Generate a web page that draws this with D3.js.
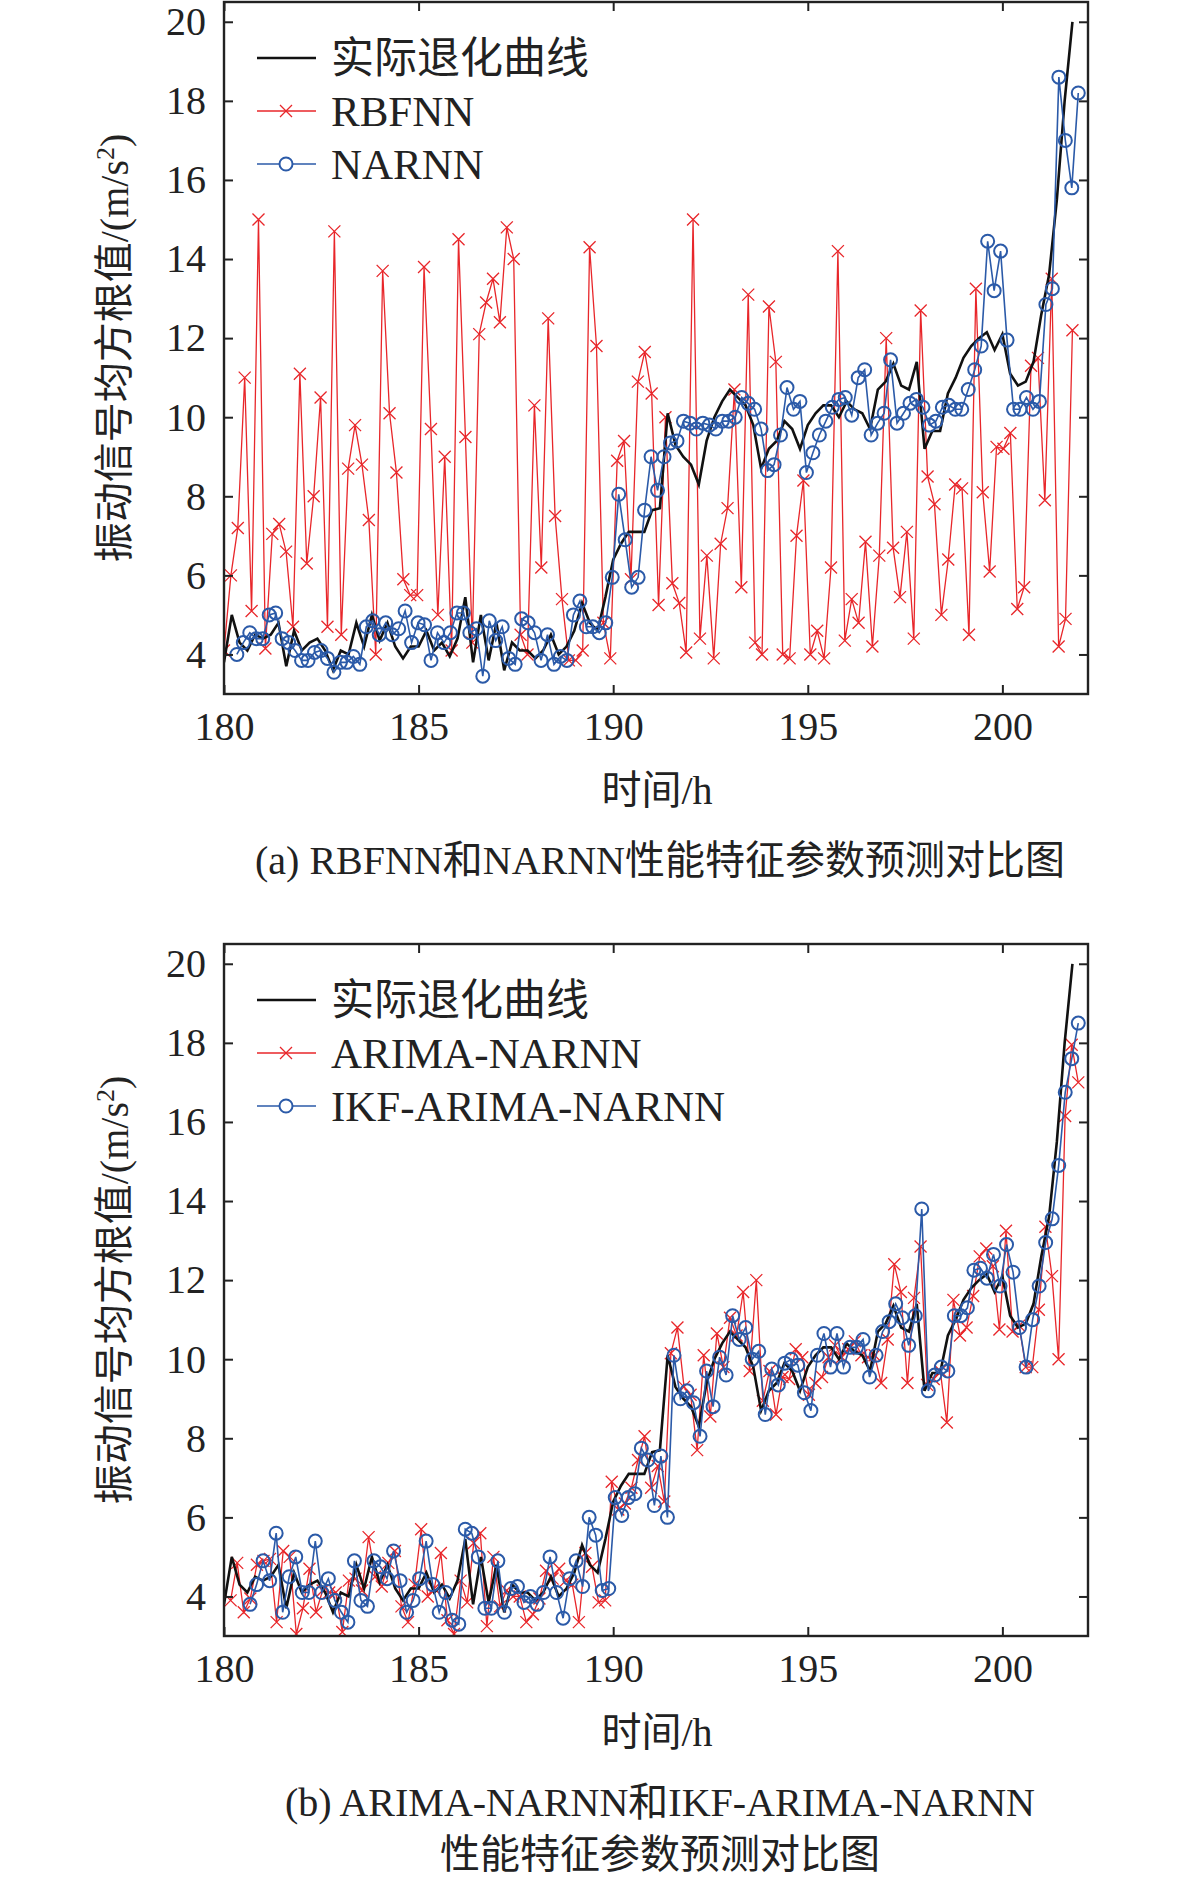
<!DOCTYPE html>
<html>
<head>
<meta charset="utf-8">
<script src="https://cdn.jsdelivr.net/npm/d3@7"></script>
<style>
  body { margin: 0; background: #fff; }
  text { font-family: "Liberation Serif", "Noto Sans CJK SC", serif; fill: #222; }
</style>
</head>
<body>
<svg width="1181" height="1890"></svg>
<script>
// actual degradation curve, sampled every 0.2 h from 180 h
var actual = [3.8,5.0,4.3,4.1,4.5,4.4,4.5,4.8,3.7,4.6, 4.1,4.3,4.4,4.1,3.6,4.1,4.0,4.8,4.2,5.0,
  4.35,4.8,4.2,3.9,4.2,4.2,4.6,4.1,4.3,3.95, 4.4,5.45,3.8,5.0,3.85,4.8,3.6,4.3,4.1,4.1,
  3.9,4.1,4.5,4.0,4.2,4.6,5.3,4.8,4.6,5.45, 6.4,6.8,7.1,7.1,7.1,7.65,7.7,10.1,9.3,9.0,
  8.8,8.3,9.4,10.0,10.4,10.7,10.5,10.3,9.8,8.7, 9.2,9.4,9.9,9.7,9.2,9.8,10.1,10.3,10.3,10.0,
  10.4,10.2,10.1,9.7,10.7,10.9,11.35,10.8,10.7,11.4, 9.2,9.65,9.65,10.6,11.0,11.5,11.8,12.0,12.15,11.7,
  12.1,11.1,10.8,10.9,11.4,12.6,13.6,15.5,18.0,20.0];
var actualStart = 180, actualStep = 0.2;

// (a) predictions
var rbfnn = [4.1,6.0,7.2,11.0,5.1,15.0,4.15,7.05,7.3,6.6,4.7,11.1,6.3,8.0,10.5,4.7,14.7,4.5,8.7,9.8,
  8.8,7.4,4.0,13.7,10.1,8.6,5.9,5.5,5.5,13.8,9.7,5.0,9.0,4.1,14.5,9.5,4.3,12.1,12.9,13.5,
  12.4,14.8,14.0,4.5,4.0,10.3,6.2,12.5,7.5,5.4,3.85,3.85,4.1,14.3,11.8,
  4.8,3.9,8.9,9.4,5.9,10.9,11.65,10.6,5.25,10.0,5.8,5.3,4.05,15.0,4.4,6.5,3.9,6.8,7.7,10.7,
  5.7,13.1,4.3,4.0,12.8,11.4,4.0,3.9,7.0,8.4,4.0,4.6,3.9,6.2,14.2,4.35,5.4,4.8,6.85,4.2,
  6.5,12.0,6.7,5.45,7.1,4.4,12.7,8.5,7.8,5.0,6.4,8.3,8.2,4.5,13.25,8.1,6.1,9.25,9.2,9.6,
  5.15,5.7,11.3,11.5,7.9,13.5,4.2,4.9,12.2];
var narnn = [4.0,4.3,4.55,4.4,4.4,5.0,5.05,4.4,4.3,4.1,3.85,3.85,4.05,4.1,3.9,3.55,3.8,3.8,3.95,3.75,
  4.7,4.85,4.5,4.8,4.5,4.65,5.1,4.3,4.8,4.75,3.85,4.55,4.3,4.55,5.05,5.05,4.55,4.65,3.45,4.85,
  4.35,4.7,3.9,3.75,4.9,4.8,4.55,3.85,4.5,3.75,3.95,3.85,5.0,5.35,4.7,4.7,4.55,4.8,5.95,8.05,
  6.9,5.7,5.95,7.65,9.0,8.15,9.0,9.35,9.4,9.9,9.85,9.7,9.85,9.8,9.7,9.9,9.9,10.0,10.5,10.35,
  10.2,9.7,8.65,8.8,9.55,10.75,10.2,10.4,8.6,9.1,9.55,9.9,10.25,10.45,10.5,10.05,11.0,11.2,9.55,9.85,
  10.1,11.45,9.85,10.1,10.35,10.45,10.25,9.8,9.9,10.25,10.3,10.2,10.2,10.7,11.2,11.8,14.45,13.2,14.2,11.95,
  10.2,10.2,10.5,10.2,10.4,12.85,13.25,18.6,17.0,15.8,18.2];

// (b) predictions
var arima = [3.9,4.85,3.6,3.95,4.8,4.9,4.95,3.35,5.15,5.0,3.05,3.7,4.7,3.6,4.15,4.1,4.1,3.1,4.4,4.45,
  4.15,5.5,4.5,4.25,4.85,5.15,3.75,3.35,4.3,5.7,4.0,4.2,5.1,3.4,3.05,4.4,3.85,5.35,5.6,3.25,
  5.0,3.75,4.15,4.0,4.0,3.35,3.55,3.95,4.65,4.45,4.7,4.4,4.3,3.35,5.1,4.75,3.85,3.9,
  6.9,6.2,6.35,6.75,7.45,8.05,6.75,7.3,6.4,10.15,10.8,9.3,9.1,7.7,10.1,8.55,10.65,9.8,11.05,10.6,
  11.7,9.7,12.0,8.95,9.7,8.6,9.55,9.5,10.25,10.05,9.1,9.4,9.55,10.05,10.35,10.05,10.25,10.45,10.1,10.05,
  10.1,9.4,10.5,12.4,11.7,9.4,11.55,12.85,9.35,9.5,9.7,8.4,11.5,10.6,10.8,11.6,12.6,12.8,12.35,10.75,
  13.25,10.7,10.85,9.8,9.8,11.25,13.35,12.1,10.0,16.15,17.95,17.0];
var ikf = [3.8,4.3,4.9,4.4,5.6,3.6,4.5,5.0,4.1,4.1,5.4,4.1,4.45,3.9,3.6,3.35,4.9,3.9,3.75,4.9,
  4.75,4.45,5.15,4.4,3.6,3.9,4.45,5.4,4.3,3.6,4.1,3.4,3.3,5.7,5.6,5.0,3.7,3.7,4.9,3.6,
  4.2,4.25,3.85,4.0,3.8,4.1,5.0,4.1,3.45,4.45,4.9,4.25,6.0,5.55,4.15,4.2,
  6.5,6.05,6.5,6.6,7.75,7.45,6.3,7.55,6.0,10.1,9.0,9.2,8.9,8.05,9.7,8.8,10.05,9.6,11.1,10.5,
  10.8,10.0,10.2,8.6,9.75,9.35,9.9,10.0,9.85,9.15,8.7,10.1,10.65,9.8,10.65,9.8,10.3,10.3,10.5,9.55,
  10.1,10.7,10.95,11.4,11.05,10.35,11.1,13.8,9.2,9.6,9.8,9.7,11.1,11.1,11.3,12.25,12.3,12.05,12.65,11.85,
  12.9,12.2,10.8,9.8,11.0,11.85,12.95,13.55,14.9,16.75,17.6,18.5];

var xTicks = [180, 185, 190, 195, 200];
var yTicks = [4, 6, 8, 10, 12, 14, 16, 18, 20];

var svg = d3.select("svg");
var red = "#e8262a", blue = "#2b5aa8";

// spread a prediction series evenly between its first and last time
function times(arr, t0, t1) {
  return arr.map(function (v, i) { return [t0 + (t1 - t0) * i / (arr.length - 1), v]; });
}

function panel(top, series, legendNames, caption) {
  var x = d3.scaleLinear().domain([180, 202.2]).range([224, 1088]);
  var y = d3.scaleLinear().domain([3, 20.5]).range([top + 692, top]);
  var g = svg.append("g");

  var clip = "clip" + top;
  svg.append("clipPath").attr("id", clip).append("rect")
    .attr("x", 224).attr("y", top).attr("width", 864).attr("height", 692);
  var plot = g.append("g").attr("clip-path", "url(#" + clip + ")");

  var line = d3.line().x(function (d) { return x(d[0]); }).y(function (d) { return y(d[1]); });

  var act = actual.map(function (v, i) { return [actualStart + i * actualStep, v]; });

  // red series with x markers
  var r = series[0];
  plot.append("path").attr("d", line(r)).attr("fill", "none").attr("stroke", red).attr("stroke-width", 1.3);
  plot.selectAll(".xm").data(r).enter().append("path")
    .attr("transform", function (d) { return "translate(" + x(d[0]) + "," + y(d[1]) + ")"; })
    .attr("d", "M-6,-6L6,6M-6,6L6,-6").attr("stroke", red).attr("stroke-width", 1.3);

  // black actual
  plot.append("path").attr("d", line(act)).attr("fill", "none").attr("stroke", "#111").attr("stroke-width", 2.6);

  // blue with circles
  var b = series[1];
  plot.append("path").attr("d", line(b)).attr("fill", "none").attr("stroke", blue).attr("stroke-width", 1.6);
  plot.selectAll(".cm").data(b).enter().append("circle")
    .attr("cx", function (d) { return x(d[0]); }).attr("cy", function (d) { return y(d[1]); })
    .attr("r", 6.5).attr("fill", "none").attr("stroke", blue).attr("stroke-width", 2);

  // frame and ticks
  g.append("rect").attr("x", 224).attr("y", top).attr("width", 864).attr("height", 692)
    .attr("fill", "none").attr("stroke", "#222").attr("stroke-width", 2.4);
  var yb = top + 692;
  g.append("g").attr("transform", "translate(0," + yb + ")")
    .call(d3.axisBottom(x).tickValues(xTicks).tickSizeInner(-9).tickSizeOuter(0).tickPadding(18))
    .call(function (a) {
      a.select(".domain").remove();
      a.selectAll("line").attr("stroke", "#222").attr("stroke-width", 2);
      a.selectAll("text").attr("font-size", 40).style("font-family", "Liberation Serif");
    });
  g.append("g").attr("transform", "translate(224,0)")
    .call(d3.axisLeft(y).tickValues(yTicks).tickSizeInner(-9).tickSizeOuter(0).tickPadding(18))
    .call(function (a) {
      a.select(".domain").remove();
      a.selectAll("line").attr("stroke", "#222").attr("stroke-width", 2);
      a.selectAll("text").attr("font-size", 40).style("font-family", "Liberation Serif");
    });
  g.append("g").attr("transform", "translate(1088,0)")
    .call(d3.axisRight(y).tickValues(yTicks).tickSizeInner(-9).tickSizeOuter(0).tickFormat(""))
    .call(function (a) { a.select(".domain").remove(); a.selectAll("line").attr("stroke", "#222").attr("stroke-width", 2); });
  g.append("g").attr("transform", "translate(0," + top + ")")
    .call(d3.axisTop(x).tickValues(xTicks).tickSizeInner(-9).tickSizeOuter(0).tickFormat(""))
    .call(function (a) { a.select(".domain").remove(); a.selectAll("line").attr("stroke", "#222").attr("stroke-width", 2); });

  // legend
  var ly = [top + 56, top + 109, top + 162];
  g.append("line").attr("x1", 257).attr("x2", 316).attr("y1", ly[0]).attr("y2", ly[0]).attr("stroke", "#111").attr("stroke-width", 2.6);
  g.append("line").attr("x1", 257).attr("x2", 316).attr("y1", ly[1]).attr("y2", ly[1]).attr("stroke", red).attr("stroke-width", 1.3);
  g.append("path").attr("d", "M280,"+(ly[1]-6)+"l12,12m-12,0l12,-12").attr("stroke", red).attr("stroke-width", 1.3);
  g.append("line").attr("x1", 257).attr("x2", 316).attr("y1", ly[2]).attr("y2", ly[2]).attr("stroke", blue).attr("stroke-width", 1.6);
  g.append("circle").attr("cx", 286).attr("cy", ly[2]).attr("r", 6.5).attr("fill", "#fff").attr("stroke", blue).attr("stroke-width", 2);
  legendNames.forEach(function (n, i) {
    g.append("text").attr("x", 331).attr("y", ly[i] + 15).attr("font-size", 43).text(n);
  });

  // titles
  g.append("text").attr("x", 657).attr("y", yb + 110).attr("text-anchor", "middle").attr("font-size", 40).text("时间/h");
  g.append("text").attr("transform", "translate(128," + (top + 346) + ") rotate(-90)")
    .attr("text-anchor", "middle").attr("font-size", 40)
    .html('振动信号均方根值/(m/s<tspan dy="-14" font-size="26">2</tspan><tspan dy="14">)</tspan>');
  caption.forEach(function (c, i) {
    g.append("text").attr("x", 660).attr("y", yb + 180 + i * 52).attr("text-anchor", "middle").attr("font-size", 40).text(c);
  });
}

panel(2, [times(rbfnn, 180, 201.8), times(narnn, 180.33, 201.95)],
  ["实际退化曲线", "RBFNN", "NARNN"], ["(a) RBFNN和NARNN性能特征参数预测对比图"]);
panel(944, [times(arima, 180.17, 201.95), times(ikf, 180.67, 201.95)],
  ["实际退化曲线", "ARIMA-NARNN", "IKF-ARIMA-NARNN"], ["(b) ARIMA-NARNN和IKF-ARIMA-NARNN", "性能特征参数预测对比图"]);
</script>
</body>
</html>
